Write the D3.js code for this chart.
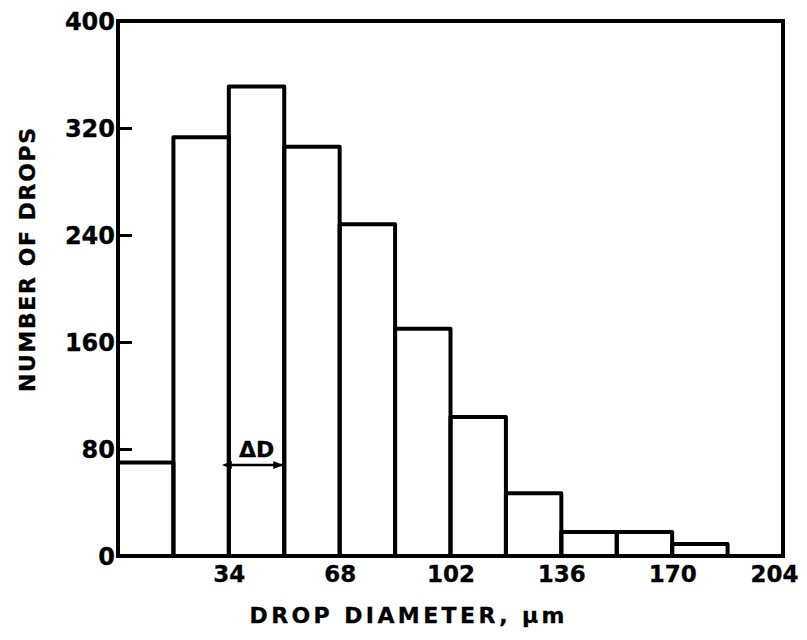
<!DOCTYPE html>
<html lang="en">
<head>
    <meta charset="UTF-8">
    <title>Number of drops by drop diameter</title>
    <script src="https://d3js.org/d3.v7.min.js"></script>
    <style>
        body { margin: 0; background: #fff; }
        text { font-family: "DejaVu Sans", sans-serif; font-weight: bold; fill: #000; stroke: #000; stroke-width: 0.3px; }
        .bar { fill: none; stroke: #000; stroke-width: 4; stroke-linejoin: round; }
    </style>
</head>
<body>
    <svg width="807" height="640"></svg>
    <script>
        // histogram bins: drop diameter (um), width ΔD = 17
        const binStarts = [0, 17, 34, 51, 68, 85, 102, 119, 136, 153, 170];
        const binWidth = 17;
        const dropCounts = [70, 313, 351, 306, 248, 170, 104, 47, 18, 18, 9];
        const xTicks = [34, 68, 102, 136, 170, 204];
        const yTicks = [0, 80, 160, 240, 320, 400];

        const margin = { top: 21, right: 24, bottom: 84, left: 118 };
        const W = 807, H = 640;
        const width = W - margin.left - margin.right;
        const height = H - margin.top - margin.bottom;

        const svg = d3.select("svg");
        svg.append("rect").attr("width", W).attr("height", H).attr("fill", "#fff").attr("stroke", "none");

        const g = svg.append("g").attr("transform", `translate(${margin.left},${margin.top})`);

        const x = d3.scaleLinear().domain([0, 204]).range([0, width]);
        const y = d3.scaleLinear().domain([0, 400]).range([height, 0]);

        const data = binStarts.map((s, i) => ({ start: s, count: dropCounts[i] }));

        g.selectAll(".bar")
            .data(data)
            .enter().append("rect")
            .attr("class", "bar")
            .attr("x", d => x(d.start))
            .attr("y", d => y(d.count))
            .attr("width", d => x(d.start + binWidth) - x(d.start))
            .attr("height", d => height - y(d.count));

        // frame
        g.append("rect")
            .attr("x", 0).attr("y", 0)
            .attr("width", width).attr("height", height)
            .attr("fill", "none").attr("stroke", "#000").attr("stroke-width", 4);

        // y axis, ticks inside
        const yAxis = g.append("g")
            .call(d3.axisLeft(y).tickValues(yTicks).tickSizeInner(-14).tickSizeOuter(0).tickPadding(3));
        yAxis.select(".domain").remove();
        yAxis.selectAll("line").attr("stroke", "#000").attr("stroke-width", 3)
            .filter(d => d === 0 || d === 400).remove();
        yAxis.selectAll("text").style("font-size", "24px").attr("dy", "0.36em")
            .attr("font-family", null);

        // x axis labels
        const xAxis = g.append("g")
            .attr("transform", `translate(0,${height})`)
            .call(d3.axisBottom(x).tickValues(xTicks).tickSize(0).tickPadding(10));
        xAxis.select(".domain").remove();
        xAxis.selectAll("text").style("font-size", "23px").attr("font-family", null)
            .attr("dx", d => d === 204 ? -9 : 0);

        // axis titles
        svg.append("text")
            .attr("x", 407).attr("y", 623)
            .attr("text-anchor", "middle")
            .attr("textLength", 315).attr("lengthAdjust", "spacing")
            .style("font-size", "22px")
            .text("DROP DIAMETER, μm");

        svg.append("text")
            .attr("transform", "translate(35,260) rotate(-90)")
            .attr("text-anchor", "middle")
            .attr("textLength", 264).attr("lengthAdjust", "spacing")
            .style("font-size", "22px")
            .text("NUMBER OF DROPS");

        // ΔD annotation
        const defs = svg.append("defs");
        ["start", "end"].forEach(k => {
            defs.append("marker")
                .attr("id", "arr-" + k)
                .attr("viewBox", "0 0 10 10")
                .attr("refX", k === "end" ? 9 : 1).attr("refY", 5)
                .attr("markerWidth", 4).attr("markerHeight", 4)
                .attr("orient", "auto-start-reverse")
                .append("path").attr("d", "M0,1 L10,5 L0,9 Z").attr("fill", "#000");
        });
        const ay = y(68);
        g.append("line")
            .attr("x1", x(34) + 2).attr("x2", x(51) - 2)
            .attr("y1", ay).attr("y2", ay)
            .attr("stroke", "#000").attr("stroke-width", 2.5)
            .attr("marker-start", "url(#arr-start)")
            .attr("marker-end", "url(#arr-end)");
        g.append("text")
            .attr("x", (x(34) + x(51)) / 2).attr("y", ay - 8)
            .attr("text-anchor", "middle")
            .style("font-size", "22px")
            .text("ΔD");
    </script>
</body>
</html>
